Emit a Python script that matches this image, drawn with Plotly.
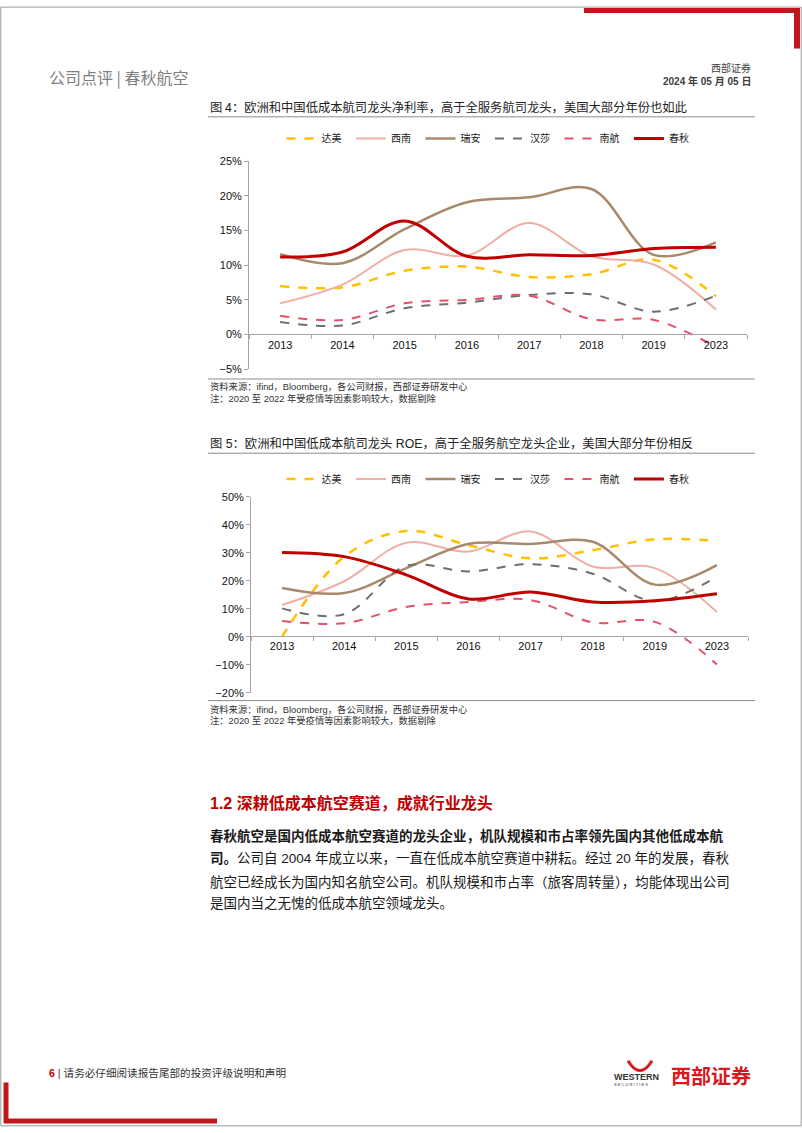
import plotly.graph_objects as go

W, H = 802, 1133

years = ['2013', '2014', '2015', '2016', '2017', '2018', '2019', '2023']
airlines = ['达美', '西南', '瑞安', '汉莎', '南航', '春秋']

# 图4 net margin, %
margin_delta = [7.0, 6.8, 9.2, 9.8, 8.3, 8.7, 10.8, 5.5]
margin_southwest = [4.5, 7.2, 12.2, 11.4, 16.1, 11.3, 10.1, 3.6]
margin_ryanair = [11.6, 10.3, 15.2, 19.1, 19.8, 21.0, 11.5, 13.3]
margin_lufthansa = [1.8, 1.3, 3.8, 4.6, 5.7, 5.8, 3.3, 5.6]
margin_csair = [2.7, 2.1, 4.5, 5.0, 5.6, 2.2, 2.1, -1.8]
margin_spring = [11.2, 11.9, 16.4, 11.3, 11.5, 11.4, 12.4, 12.6]

# 图5 ROE, %
roe_delta = [0.0, 28.6, 37.8, 32.7, 28.0, 30.9, 34.8, 34.2]
roe_southwest = [11.3, 19.8, 33.6, 30.4, 37.6, 25.1, 24.5, 8.8]
roe_ryanair = [17.4, 15.6, 24.5, 33.1, 33.1, 33.9, 18.6, 25.6]
roe_lufthansa = [10.1, 8.0, 25.3, 23.3, 25.9, 22.5, 12.7, 21.5]
roe_csair = [5.6, 4.8, 10.6, 12.4, 13.1, 5.1, 5.3, -9.9]
roe_spring = [30.1, 28.6, 22.1, 13.5, 16.0, 12.4, 12.8, 15.3]

styles = {
    '达美': dict(color='#FFC000', dash='dash', width=2.5),
    '西南': dict(color='#F0AFA6', dash='solid', width=2),
    '瑞安': dict(color='#A88A6B', dash='solid', width=2.5),
    '汉莎': dict(color='#6E6E6E', dash='dash', width=2),
    '南航': dict(color='#E5506A', dash='dash', width=2),
    '春秋': dict(color='#C00000', dash='solid', width=3),
}

CN = 'Noto Sans CJK SC'
NUM = 'Liberation Sans, Noto Sans CJK SC'


def px_x(x):
    return x / W


def px_y(y):
    return 1 - y / H


def add_lines(fig, series, xaxis, yaxis, legend):
    for name, vals in zip(airlines, series):
        # trailing nbsp only widens the legend entry a little, like the source
        fig.add_trace(go.Scatter(x=years, y=vals, name=name + '\u00a0\u00a0', mode='lines',
                                 line=dict(shape='spline', smoothing=1.0, **styles[name]),
                                 xaxis=xaxis, yaxis=yaxis, legend=legend,
                                 hoverinfo='skip'))


fig = go.Figure()
add_lines(fig, [margin_delta, margin_southwest, margin_ryanair,
                margin_lufthansa, margin_csair, margin_spring], 'x', 'y', 'legend')
add_lines(fig, [roe_delta, roe_southwest, roe_ryanair,
                roe_lufthansa, roe_csair, roe_spring], 'x2', 'y2', 'legend2')

axis_common = dict(showline=True, linecolor='#A6A6A6', ticks='outside', ticklen=4,
                   tickcolor='#A6A6A6', showgrid=False, zeroline=False,
                   tickfont=dict(family=NUM, size=11, color='#111'))

legend_common = dict(orientation='h', xanchor='center', yanchor='middle',
                     font=dict(family=CN, size=10, color='#222'), bgcolor='rgba(0,0,0,0)',
                     itemwidth=30, tracegroupgap=0)

# chart 1 area: y 157..367, x 249..747 ; chart 2: y 496..694, x 251..748
fig.update_layout(
    xaxis=dict(domain=[px_x(249), px_x(747)], anchor='free', position=px_y(332),
               type='category', range=[-0.5, 7.5], tickson='boundaries', **axis_common),
    yaxis=dict(domain=[px_y(367), px_y(157)], anchor='x', range=[-5, 25], dtick=5,
               ticksuffix='%', **axis_common),
    xaxis2=dict(domain=[px_x(251), px_x(748)], anchor='free', position=px_y(637),
                type='category', range=[-0.5, 7.5], tickson='boundaries', **axis_common),
    yaxis2=dict(domain=[px_y(694), px_y(496)], anchor='x2', range=[-20, 50], dtick=10,
                ticksuffix='%', **axis_common),
    legend=dict(x=px_x(490), y=px_y(134), **legend_common),
    legend2=dict(x=px_x(490), y=px_y(478), **legend_common),
    width=W, height=H, margin=dict(l=0, r=0, t=0, b=0),
    paper_bgcolor='white', plot_bgcolor='white', showlegend=True,
)

shapes = []


def hline(x0, x1, y, color='#8C8C8C', width=1):
    shapes.append(dict(type='line', xref='paper', yref='paper', x0=px_x(x0), x1=px_x(x1),
                       y0=px_y(y), y1=px_y(y), line=dict(color=color, width=width)))


def vline(x, y0, y1, color, width):
    shapes.append(dict(type='line', xref='paper', yref='paper', x0=px_x(x), x1=px_x(x),
                       y0=px_y(y0), y1=px_y(y1), line=dict(color=color, width=width)))


# page frame
shapes.append(dict(type='rect', xref='paper', yref='paper', x0=0.001, x1=0.999, y0=0.001, y1=0.999,
                   line=dict(color='#9A9A9A', width=1)))
# red corner marks
hline(584, 800, 4.5, '#C0161E', 5)
vline(797, 2, 43, '#C0161E', 6)
vline(6, 1088, 1129, '#C0161E', 5)
hline(4, 217, 1127, '#C0161E', 5)
# caption rules
hline(208, 755, 112)
hline(208, 755, 377)
hline(208, 755, 452)
hline(208, 755, 702)
# logo horns
x0, x1, xm = px_x(628), px_x(652), px_x(640)
shapes.append(dict(type='path', xref='paper', yref='paper',
                   path=f'M {x0},{px_y(1066)} Q {xm},{px_y(1086)} {x1},{px_y(1066)}',
                   line=dict(color='#D7191F', width=3)))
fig.update_layout(shapes=shapes)

ann = []


def text(x, y, s, size, color='#222', anchor='left', family=CN):
    ann.append(dict(xref='paper', yref='paper', x=px_x(x), y=px_y(y), text=s, showarrow=False,
                    xanchor=anchor, yanchor='middle', font=dict(family=family, size=size, color=color)))


text(47, 72, '公司点评 | 春秋航空', 16, '#7F7F7F')
text(753, 62, '西部证券', 10, '#404040', 'right')
text(753, 76, '<b>2024 年 05 月 05 日</b>', 10, '#404040', 'right', NUM)

text(208, 102, '图 4：欧洲和中国低成本航司龙头净利率，高于全服务航司龙头，美国大部分年份也如此', 12.3, '#222')
text(208, 385, '资料来源：ifind，Bloomberg，各公司财报，西部证券研发中心', 9.3, '#333', family=NUM)
text(208, 397, '注：2020 至 2022 年受疫情等因素影响较大，数据剔除', 9.3, '#333', family=NUM)

text(208, 442, '图 5：欧洲和中国低成本航司龙头 ROE，高于全服务航空龙头企业，美国大部分年份相反', 12.3, '#222', family=NUM)
text(208, 711, '资料来源：ifind，Bloomberg，各公司财报，西部证券研发中心', 9.3, '#333', family=NUM)
text(208, 722, '注：2020 至 2022 年受疫情等因素影响较大，数据剔除', 9.3, '#333', family=NUM)

text(208, 806, '<b>1.2 深耕低成本航空赛道，成就行业龙头</b>', 16, '#C00000', family=NUM)
text(208, 838, '<b>春秋航空是国内低成本航空赛道的龙头企业，机队规模和市占率领先国内其他低成本航</b>', 13.5, '#1A1A1A')
text(208, 861, '<b>司。</b>公司自 2004 年成立以来，一直在低成本航空赛道中耕耘。经过 20 年的发展，春秋', 13.5, '#1A1A1A', family=NUM)
text(208, 884, '航空已经成长为国内知名航空公司。机队规模和市占率（旅客周转量），均能体现出公司', 13.5, '#1A1A1A')
text(208, 906, '是国内当之无愧的低成本航空领域龙头。', 13.5, '#1A1A1A')

text(47, 1078, '<span style="color:#C00000"><b>6</b></span> | 请务必仔细阅读报告尾部的投资评级说明和声明', 10.6, '#333', family=NUM)
text(612, 1082, '<b>WESTERN</b>', 9, '#333', family=NUM)
text(612, 1090, 'S E C U R I T I E S', 4, '#333', family=NUM)
text(753, 1081, '<b>西部证券</b>', 20, '#D7191F', 'right')

fig.update_layout(annotations=ann)

fig.write_html("out.html", config={'displayModeBar': False},
               post_script="document.body.style.margin='0px';document.body.style.overflow='hidden';")
